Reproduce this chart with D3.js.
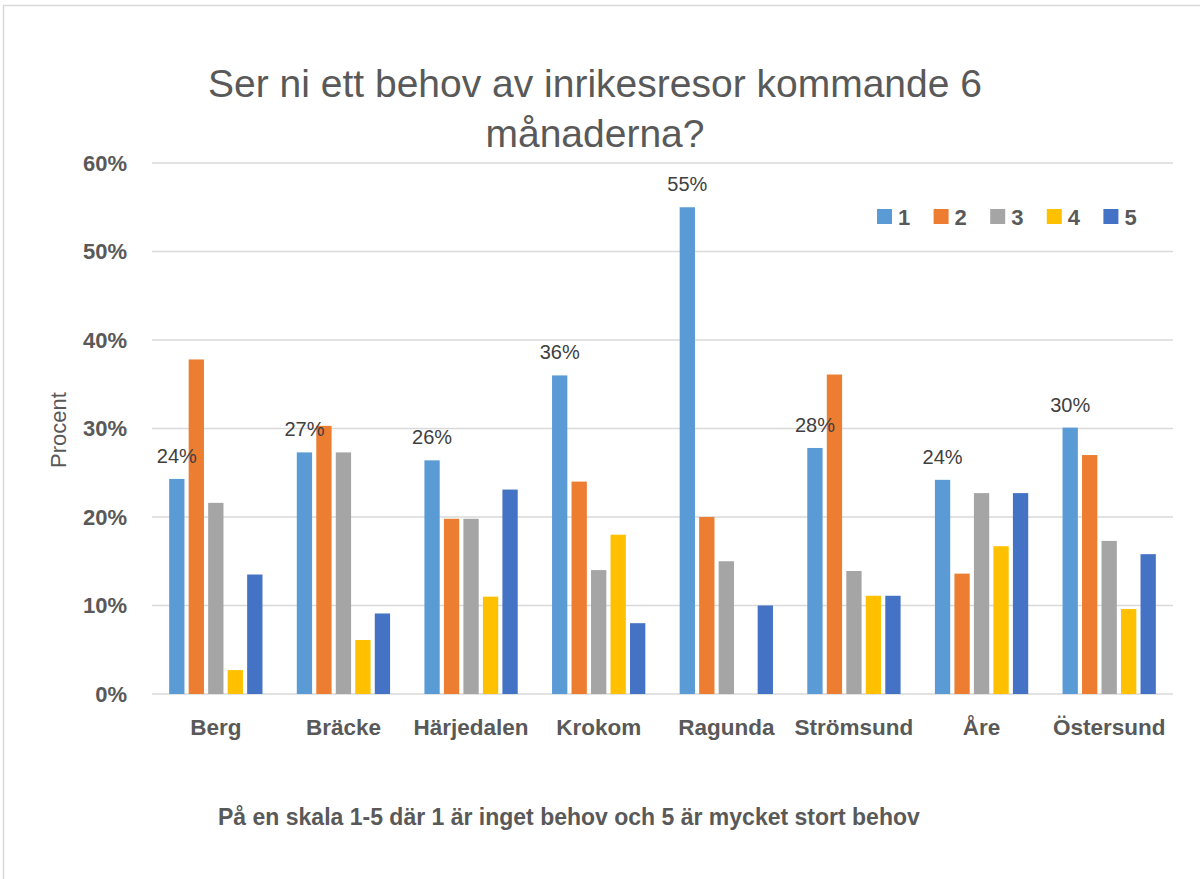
<!DOCTYPE html>
<html>
<head>
<meta charset="utf-8">
<script src="https://cdn.jsdelivr.net/npm/d3@7"></script>
<style>
    body { margin: 0; background: #fff; }
    svg { display: block; font-family: 'Liberation Sans', Arial, sans-serif; }
</style>
</head>
<body>
<script>
var categories = ['Berg', 'Bräcke', 'Härjedalen', 'Krokom', 'Ragunda', 'Strömsund', 'Åre', 'Östersund'];
var seriesNames = ['1', '2', '3', '4', '5'];
var serie1 = [0.243, 0.273, 0.264, 0.36, 0.55, 0.278, 0.242, 0.301];
var serie2 = [0.378, 0.303, 0.198, 0.24, 0.20, 0.361, 0.136, 0.27];
var serie3 = [0.216, 0.273, 0.198, 0.14, 0.15, 0.139, 0.227, 0.173];
var serie4 = [0.027, 0.061, 0.11, 0.18, 0, 0.111, 0.167, 0.096];
var serie5 = [0.135, 0.091, 0.231, 0.08, 0.10, 0.111, 0.227, 0.158];
var yTicks = [0, 0.1, 0.2, 0.3, 0.4, 0.5, 0.6];
var colors = ['#5B9BD5', '#ED7D31', '#A5A5A5', '#FFC000', '#4472C4'];

window.onload = function(){

    var svg = d3.select(document.body).append('svg')
        .attr('width', 1200).attr('height', 879);

    var plot = {left: 152, right: 1173, top: 163, bottom: 694};
    var series = [serie1, serie2, serie3, serie4, serie5];

    // kader runt diagrammet
    svg.append('rect')
        .attr('x', 3.5).attr('y', 5.5)
        .attr('width', 1300).attr('height', 1000)
        .attr('fill', 'none').attr('stroke', '#d9d9d9').attr('stroke-width', 1.5);

    var y = d3.scaleLinear().domain([0, 0.6]).range([plot.bottom, plot.top]);
    var x0 = d3.scaleBand().domain(categories).range([plot.left, plot.right]);
    var groupWidth = 93.3;
    var x1 = d3.scaleBand().domain(seriesNames).range([0, groupWidth]).paddingInner(0.215);
    var offset = (x0.bandwidth() - groupWidth) / 2;

    // rutnät
    svg.append('g').selectAll('line').data(yTicks).enter()
        .append('line')
        .attr('x1', plot.left).attr('x2', plot.right)
        .attr('y1', function(d){ return y(d); })
        .attr('y2', function(d){ return y(d); })
        .attr('stroke', '#d9d9d9').attr('stroke-width', 1.5);

    // y-axel
    var yAxis = d3.axisLeft(y).tickValues(yTicks).tickFormat(d3.format('.0%')).tickSize(0).tickPadding(25);
    var ya = svg.append('g').attr('transform', 'translate(' + plot.left + ',0)').call(yAxis);
    ya.select('.domain').remove();
    ya.selectAll('text')
        .attr('font-family', "'Liberation Sans', Arial, sans-serif")
        .attr('font-size', 22).attr('font-weight', 'bold').attr('fill', '#595959');

    // x-axel
    var xAxis = d3.axisBottom(x0).tickSize(0).tickPadding(25);
    var xa = svg.append('g').attr('transform', 'translate(0,' + plot.bottom + ')').call(xAxis);
    xa.select('.domain').remove();
    xa.selectAll('text')
        .attr('font-family', "'Liberation Sans', Arial, sans-serif")
        .attr('font-size', 22.5).attr('font-weight', 'bold').attr('fill', '#595959');

    // staplar
    series.forEach(function(values, si){
        svg.append('g').selectAll('rect').data(values).enter()
            .append('rect')
            .attr('x', function(d, i){ return x0(categories[i]) + offset + x1(seriesNames[si]); })
            .attr('y', function(d){ return y(d); })
            .attr('width', x1.bandwidth())
            .attr('height', function(d){ return y(0) - y(d); })
            .attr('fill', colors[si]);
    });

    // dataetiketter för serie 1
    svg.append('g').selectAll('text').data(serie1).enter()
        .append('text')
        .attr('x', function(d, i){ return x0(categories[i]) + offset + x1('1') + x1.bandwidth() / 2; })
        .attr('y', function(d){ return y(d) - 16; })
        .attr('text-anchor', 'middle')
        .attr('font-size', 20).attr('fill', '#404040')
        .text(function(d){ return d3.format('.0%')(d); });

    // titel
    var title = svg.append('text').attr('text-anchor', 'middle')
        .attr('font-size', 39).attr('fill', '#595959');
    title.append('tspan').attr('x', 595).attr('y', 97).text('Ser ni ett behov av inrikesresor kommande 6');
    title.append('tspan').attr('x', 595).attr('y', 147).text('månaderna?');

    // y-axelns rubrik
    svg.append('text')
        .attr('transform', 'translate(66,430) rotate(-90)')
        .attr('text-anchor', 'middle')
        .attr('font-size', 22).attr('fill', '#595959')
        .text('Procent');

    // x-axelns rubrik
    svg.append('text')
        .attr('x', 218).attr('y', 825)
        .attr('font-size', 23).attr('font-weight', 'bold').attr('fill', '#595959')
        .text('På en skala 1-5 där 1 är inget behov och 5 är mycket stort behov');

    // förklaring
    var legend = svg.append('g').selectAll('g').data(seriesNames).enter()
        .append('g')
        .attr('transform', function(d, i){ return 'translate(' + (877 + i * 56.6) + ',209)'; });
    legend.append('rect')
        .attr('width', 15).attr('height', 15)
        .attr('fill', function(d, i){ return colors[i]; });
    legend.append('text')
        .attr('x', 21).attr('y', 15.5)
        .attr('font-size', 22).attr('font-weight', 'bold').attr('fill', '#595959')
        .text(function(d){ return d; });
}
</script>
</body>
</html>
